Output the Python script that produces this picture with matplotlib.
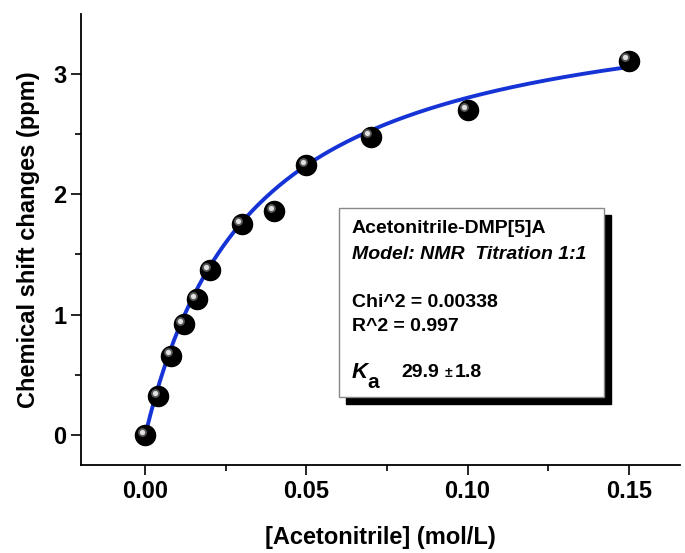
import numpy as np
import matplotlib
matplotlib.use('Agg')
import matplotlib.pyplot as plt
import matplotlib.transforms as mtrans
from matplotlib.patches import Rectangle

# titration data
conc = [0.0, 0.004, 0.008, 0.012, 0.016, 0.020, 0.030, 0.040, 0.050, 0.070, 0.100, 0.150]
shift = [0.0, 0.32, 0.66, 0.92, 1.13, 1.37, 1.75, 1.86, 2.24, 2.48, 2.70, 3.11]

# 1:1 fit parameters
Ka = 29.9
Ka_err = 1.8
dmax = 3.74

plt.rcParams['font.family'] = ['Liberation Sans', 'DejaVu Sans']
plt.rcParams['font.weight'] = 'bold'

fig = plt.figure(figsize=(6.85, 5.53), dpi=100)
ax = fig.add_axes([0.118, 0.159, 0.875, 0.816])

xfit = np.linspace(0, max(conc), 200)
yfit = dmax * Ka * xfit / (1 + Ka * xfit)
ax.plot(xfit, yfit, color='#1634d6', lw=2.8, zorder=2)

# sphere-like markers: black ball plus small highlight
ax.scatter(conc, shift, s=210, color='black', zorder=3)
hl = mtrans.offset_copy(ax.transData, fig=fig, x=-2.5, y=2.5, units='points')
ax.scatter(conc, shift, s=40, color='#5a5a5a', transform=hl, zorder=4, linewidths=0)
ax.scatter(conc, shift, s=14, color='#e0e0e0', transform=hl, zorder=4, linewidths=0)

ax.set_xlim(-0.02, 0.166)
ax.set_ylim(-0.25, 3.5)
ax.set_xticks([0.0, 0.05, 0.10, 0.15])
ax.set_xticklabels(['0.00', '0.05', '0.10', '0.15'])
ax.set_xticks([0.025, 0.075, 0.125], minor=True)
ax.set_yticks([0, 1, 2, 3])
ax.set_yticks([0.5, 1.5, 2.5], minor=True)

for s in ['top', 'right']:
    ax.spines[s].set_visible(False)
for s in ['left', 'bottom']:
    ax.spines[s].set_linewidth(1.3)
ax.tick_params(which='major', direction='out', length=7.5, width=1.2, labelsize=17, pad=3)
ax.tick_params(which='minor', direction='out', length=4, width=1.2)
for lab in ax.get_xticklabels() + ax.get_yticklabels():
    lab.set_fontweight('bold')

ax.set_xlabel('[Acetonitrile] (mol/L)', fontsize=17, fontweight='bold', labelpad=17)
ax.set_ylabel('Chemical shift changes (ppm)', fontsize=17, fontweight='bold', labelpad=9)

# result box with shadow
bx, by, bw, bh = 0.431, 0.151, 0.442, 0.419
ax.add_patch(Rectangle((bx + 0.011, by - 0.015), bw, bh, transform=ax.transAxes,
                       facecolor='black', edgecolor='black', zorder=5))
ax.add_patch(Rectangle((bx, by), bw, bh, transform=ax.transAxes,
                       facecolor='white', edgecolor='#888888', lw=1, zorder=6))
tx = 0.452
fs = 14
ax.text(tx, 0.525, 'Acetonitrile-DMP[5]A', transform=ax.transAxes, fontsize=fs,
        fontweight='bold', va='center', zorder=7)
ax.text(tx, 0.467, 'Model: NMR  Titration 1:1', transform=ax.transAxes, fontsize=fs,
        fontweight='bold', style='italic', va='center', zorder=7)
ax.text(tx, 0.361, 'Chi^2 = 0.00338', transform=ax.transAxes, fontsize=fs,
        fontweight='bold', va='center', zorder=7)
ax.text(tx, 0.308, 'R^2 = 0.997', transform=ax.transAxes, fontsize=fs,
        fontweight='bold', va='center', zorder=7)
ax.text(tx, 0.205, 'K', transform=ax.transAxes, fontsize=16,
        fontweight='bold', style='italic', va='center', zorder=7)
ax.text(tx + 0.026, 0.183, 'a', transform=ax.transAxes, fontsize=15,
        fontweight='bold', va='center', zorder=7)
ax.text(tx + 0.083, 0.205, f'{Ka}', transform=ax.transAxes, fontsize=fs,
        fontweight='bold', va='center', zorder=7)
ax.text(tx + 0.155, 0.203, '\u00b1', transform=ax.transAxes, fontsize=10,
        fontweight='bold', va='center', zorder=7)
ax.text(tx + 0.172, 0.205, f'{Ka_err}', transform=ax.transAxes, fontsize=fs,
        fontweight='bold', va='center', zorder=7)

fig.savefig('out.png', dpi=100)
